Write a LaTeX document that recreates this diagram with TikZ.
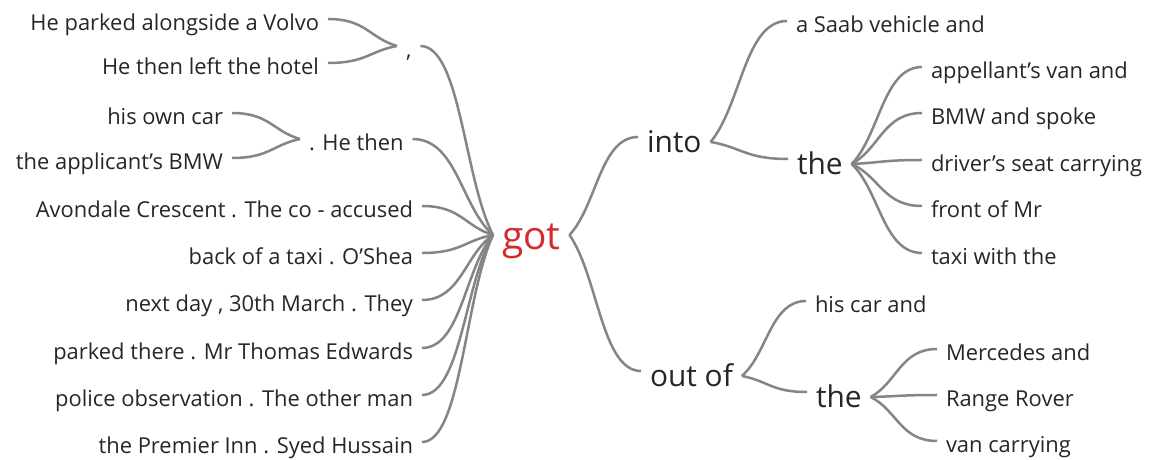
\documentclass[tikz,border=0pt]{standalone}
\usepackage{fontspec}
\setmainfont{Open Sans}
\usetikzlibrary{calc}
\definecolor{linec}{HTML}{858585}
\definecolor{txt}{HTML}{262626}
\definecolor{hub}{HTML}{D42A2F}
\tikzset{
  leaf/.style={inner sep=0pt, outer xsep=9bp, text=txt, font=\fontsize{22}{24}\selectfont, text height=27bp, text depth=3bp},
  mid/.style={inner sep=0pt, outer xsep=9bp, text=txt, font=\fontsize{30}{33}\selectfont, text height=28bp, text depth=4bp},
  link/.style={draw=linec, line width=2.5bp, to path={let \p1=(\tikztostart), \p2=(\tikztotarget) in .. controls ({\x1+0.55*(\x2-\x1)},\y1) and ({\x2-0.4*(\x2-\x1)},{\y2-0.3*(\y2-\y1)}) .. (\tikztotarget)}}
}
\begin{document}
\begin{tikzpicture}[x=1bp,y=-1bp]
\useasboundingbox[fill=white] (0,0) rectangle (1157,460);
% left side
\node[leaf,anchor=east] (v1) at (328,19) {He parked alongside a Volvo};
\node[leaf,anchor=east] (v2) at (328,63) {He then left the hotel};
\node[leaf,anchor=west] (comma) at (397,46) {,};
\node[leaf,anchor=east] (o1) at (232,113) {his own car};
\node[leaf,anchor=east] (o2) at (232,158) {the applicant's BMW};
\node[leaf,anchor=west] (hethen) at (300,139) {. He then};
\node[leaf,anchor=east] (l1) at (422,206) {Avondale Crescent . The co - accused};
\node[leaf,anchor=east] (l2) at (422,253) {back of a taxi . O'Shea};
\node[leaf,anchor=east] (l3) at (422,300) {next day , 30th March . They};
\node[leaf,anchor=east] (l4) at (422,348) {parked there . Mr Thomas Edwards};
\node[leaf,anchor=east] (l5) at (422,395) {police observation . The other man};
\node[leaf,anchor=east] (l6) at (422,442) {the Premier Inn . Syed Hussain};
\node[inner sep=0pt, outer xsep=9bp, text=hub, font=\fontsize{39}{42}\selectfont, text height=33bp, text depth=3bp, anchor=west] (got) at (493,235) {got};
% right side
\node[mid,anchor=west] (into) at (638,141) {into};
\node[mid,anchor=west] (outof) at (641,375) {out of};
\node[leaf,anchor=west] (saab) at (787,21) {a Saab vehicle and};
\node[mid,anchor=west] (the1) at (788,163) {the};
\node[leaf,anchor=west] (t1) at (922,67) {appellant’s van and};
\node[leaf,anchor=west] (t2) at (922,113) {BMW and spoke};
\node[leaf,anchor=west] (t3) at (922,160) {driver's seat carrying};
\node[leaf,anchor=west] (t4) at (922,206) {front of Mr};
\node[leaf,anchor=west] (t5) at (922,253) {taxi with the};
\node[leaf,anchor=west] (car) at (806,301) {his car and};
\node[mid,anchor=west] (the2) at (807,396) {the};
\node[leaf,anchor=west] (m1) at (937,349) {Mercedes and};
\node[leaf,anchor=west] (m2) at (937,395) {Range Rover};
\node[leaf,anchor=west] (m3) at (937,441) {van carrying};
% connection points of the middle words
\foreach \n in {into,outof,the1,the2}{
  \coordinate (\n W) at ([yshift=4bp]\n.west);
  \coordinate (\n E) at ([yshift=-1bp]\n.east);
}
% connectors
\foreach \a/\b in {v1/comma,v2/comma,o1/hethen,o2/hethen}
  \draw[link] (\a.east) to (\b.west);
\foreach \a in {comma,hethen,l1,l2,l3,l4,l5,l6}
  \draw[link] (\a.east) to (got.west);
\draw[link] (intoW) to (got.east);
\draw[link] (outofW) to (got.east);
\draw[link] (saab.west) to (intoE);
\draw[link] (the1W) to (intoE);
\foreach \a in {t1,t2,t3,t4,t5}
  \draw[link] (\a.west) to (the1E);
\draw[link] (car.west) to (outofE);
\draw[link] (the2W) to (outofE);
\foreach \a in {m1,m2,m3}
  \draw[link] (\a.west) to (the2E);
\end{tikzpicture}
\end{document}
